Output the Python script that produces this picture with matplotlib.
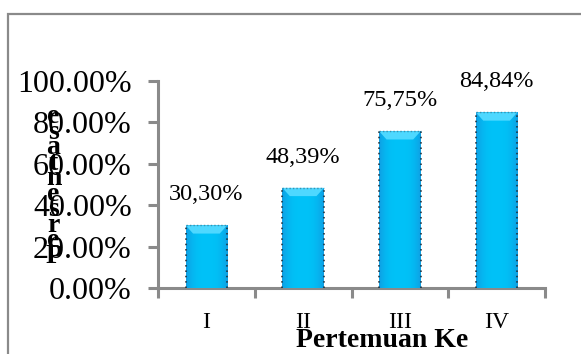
import numpy as np
import matplotlib.pyplot as plt
from matplotlib.patches import Rectangle, Polygon

# Persentase per pertemuan
pertemuan = ["I", "II", "III", "IV"]
persentase = [30.30, 48.39, 75.75, 84.84]
label_nilai = ["30,30%", "48,39%", "75,75%", "84,84%"]
y_ticks = [0, 20, 40, 60, 80, 100]
y_tick_labels = ["0.00%", "20.00%", "40.00%", "60.00%", "80.00%", "100.00%"]

SERIF = ["Liberation Serif", "DejaVu Serif"]
GRIS = "#8a8a8a"
BIRU = "#00bdf5"

fig = plt.figure(figsize=(5.81, 3.54), dpi=100)
ax = fig.add_axes([0.272, 0.1864, 0.666, 0.5848])

# cadre gris autour du graphique
fig.patches.append(Rectangle((8 / 581, -0.1), 1.2, 1 - 14 / 354 + 0.1,
                             transform=fig.transFigure, fill=False,
                             edgecolor=GRIS, linewidth=1.6))

x = np.arange(len(pertemuan))
bars = ax.bar(x, persentase, width=0.43, color=BIRU, zorder=2)

# dégradé horizontal léger + biseau clair en haut de chaque barre
t = np.linspace(0, 1, 64)
edge = np.clip(np.abs(t - 0.5) * 2, 0, 1) ** 3
img = np.zeros((1, 64, 4))
img[0, :, 0] = 0.00 + 0.06 * edge
img[0, :, 1] = 0.76 - 0.14 * edge
img[0, :, 2] = 0.97 - 0.08 * edge
img[0, :, 3] = 1
for b in bars:
    x0, w, h = b.get_x(), b.get_width(), b.get_height()
    im = ax.imshow(img, extent=(x0, x0 + w, 0, h), aspect="auto",
                   zorder=3, interpolation="bilinear")
    im.set_clip_path(b)
    bevel = 4.0
    ax.add_patch(Polygon([(x0, h), (x0 + w, h), (x0 + w * 0.82, h - bevel),
                          (x0 + w * 0.18, h - bevel)], closed=True,
                         facecolor="#4ed8ff", edgecolor="none", zorder=4))
    # bords pointillés
    for xe in (x0, x0 + w):
        ax.plot([xe, xe], [0, h], color="#1d2a33", linestyle=(0, (1, 2.5)),
                linewidth=1.1, zorder=5)
    ax.plot([x0, x0 + w], [h, h], color="#3a90b0", linestyle=(0, (1, 1.5)),
            linewidth=1.0, zorder=5)

for xi, v, lab in zip(x, persentase, label_nilai):
    ax.annotate(lab, (xi, v), xytext=(0, 22), textcoords="offset points",
                ha="center", va="center", fontsize=17.5, family=SERIF)

ax.set_xlim(-0.5, 3.5)
ax.set_ylim(0, 100)
ax.set_yticks(y_ticks)
ax.set_yticklabels(y_tick_labels, family=SERIF, fontsize=23)
ax.set_xticks(x)
ax.set_xticklabels(pertemuan, family=SERIF, fontsize=17)
ax.set_xticks(np.arange(-0.5, 4.0, 1.0), minor=True)
ax.tick_params(axis="x", which="major", length=0, pad=17)
ax.tick_params(axis="x", which="minor", length=7, width=2.2, color=GRIS,
               direction="out")
ax.tick_params(axis="y", length=7, width=2.2, color=GRIS, pad=12)

for s in ("top", "right"):
    ax.spines[s].set_visible(False)
for s in ("left", "bottom"):
    ax.spines[s].set_color(GRIS)
    ax.spines[s].set_linewidth(2.2)

ax.set_xlabel("Pertemuan Ke", family=SERIF, fontsize=20, fontweight="bold",
              va="center")
ax.xaxis.set_label_coords(0.579, -0.255)
ax.set_ylabel("\n".join(reversed("Persentase")), rotation=0, family=SERIF,
              fontsize=20, fontweight="bold", linespacing=0.5,
              va="center", ha="center")
ax.yaxis.set_label_coords(-0.27, 0.49)

fig.savefig("out.png", dpi=100)
